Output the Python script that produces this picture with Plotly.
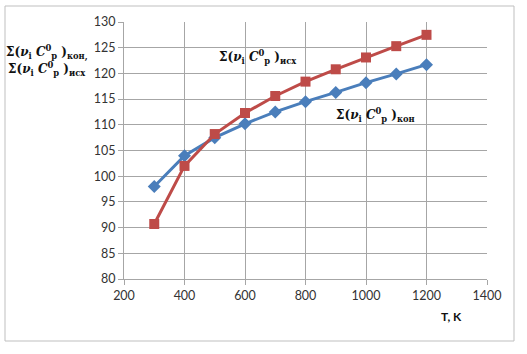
import plotly.graph_objects as go

T = [300, 400, 500, 600, 700, 800, 900, 1000, 1100, 1200]
kon = [98.0, 104.0, 107.5, 110.2, 112.5, 114.5, 116.3, 118.2, 119.9, 121.7]
isx = [90.7, 102.0, 108.2, 112.3, 115.6, 118.4, 120.8, 123.1, 125.3, 127.5]

x_ticks = [200, 400, 600, 800, 1000, 1200, 1400]
y_ticks = [80, 85, 90, 95, 100, 105, 110, 115, 120, 125, 130]

BLUE = "#4a7ebb"
RED = "#be4b48"
GRID = "#a6a6a6"
FONT = "Lato"

fig = go.Figure()
fig.add_trace(go.Scatter(x=T, y=kon, mode="lines+markers",
                         line=dict(color=BLUE, width=3),
                         marker=dict(symbol="diamond", size=10, color=BLUE),
                         showlegend=False))
fig.add_trace(go.Scatter(x=T, y=isx, mode="lines+markers",
                         line=dict(color=RED, width=3),
                         marker=dict(symbol="square", size=10, color=RED),
                         showlegend=False))

W, H = 527, 354
L, R, Tp, B = 124, 40, 22, 75
pw = W - L - R
ph = H - Tp - B

def px(xpix):
    return (xpix - L) / pw

def py(ypix):
    return 1 - (ypix - Tp) / ph

def lab(sub):
    return ("<b>Σ(<i>ν</i><sub>i</sub> <i>C</i><sup>0</sup><sub>p</sub> )</b>"
            "<b><sub>" + sub + "</sub></b>")

fig.update_layout(
    width=W, height=H,
    margin=dict(l=L, r=R, t=Tp, b=B),
    paper_bgcolor="white", plot_bgcolor="white",
    font=dict(family=FONT, size=12, color="#222"),
    xaxis=dict(range=[200, 1400], tickvals=x_ticks, showgrid=True,
               gridcolor=GRID, gridwidth=1, showline=True, linecolor=GRID,
               ticks="outside", ticklen=5, tickcolor=GRID, zeroline=False,
               tickfont=dict(family=FONT, size=12.5, color="#333")),
    yaxis=dict(range=[80, 130], tickvals=y_ticks, showgrid=True,
               gridcolor=GRID, gridwidth=1, showline=True, linecolor=GRID,
               ticks="outside", ticklen=5, tickcolor=GRID, zeroline=False,
               tickfont=dict(family=FONT, size=12.5, color="#333")),
    shapes=[dict(type="rect", xref="paper", yref="paper",
                 x0=px(5), x1=px(514), y0=py(341), y1=py(6),
                 line=dict(color="#bfbfbf", width=1), layer="below")],
)

fig.add_annotation(xref="paper", yref="paper", x=px(47), y=py(52),
                   text=lab("кон,"), showarrow=False,
                   font=dict(family="DejaVu Serif", size=12, color="#111"),
                   xanchor="center", yanchor="middle")
fig.add_annotation(xref="paper", yref="paper", x=px(47), y=py(69),
                   text=lab("исх"), showarrow=False,
                   font=dict(family="DejaVu Serif", size=12, color="#111"),
                   xanchor="center", yanchor="middle")
fig.add_annotation(x=643, y=123.2, text=lab("исх"), showarrow=False,
                   font=dict(family="DejaVu Serif", size=12, color="#111"))
fig.add_annotation(x=1030, y=111.9, text=lab("кон"), showarrow=False,
                   font=dict(family="DejaVu Serif", size=12, color="#111"))
fig.add_annotation(xref="paper", yref="paper", x=px(451), y=py(316),
                   text="<b>T, K</b>", showarrow=False,
                   xanchor="center", yanchor="middle",
                   font=dict(family=FONT, size=12, color="#111"))

fig.write_html("out.html")
